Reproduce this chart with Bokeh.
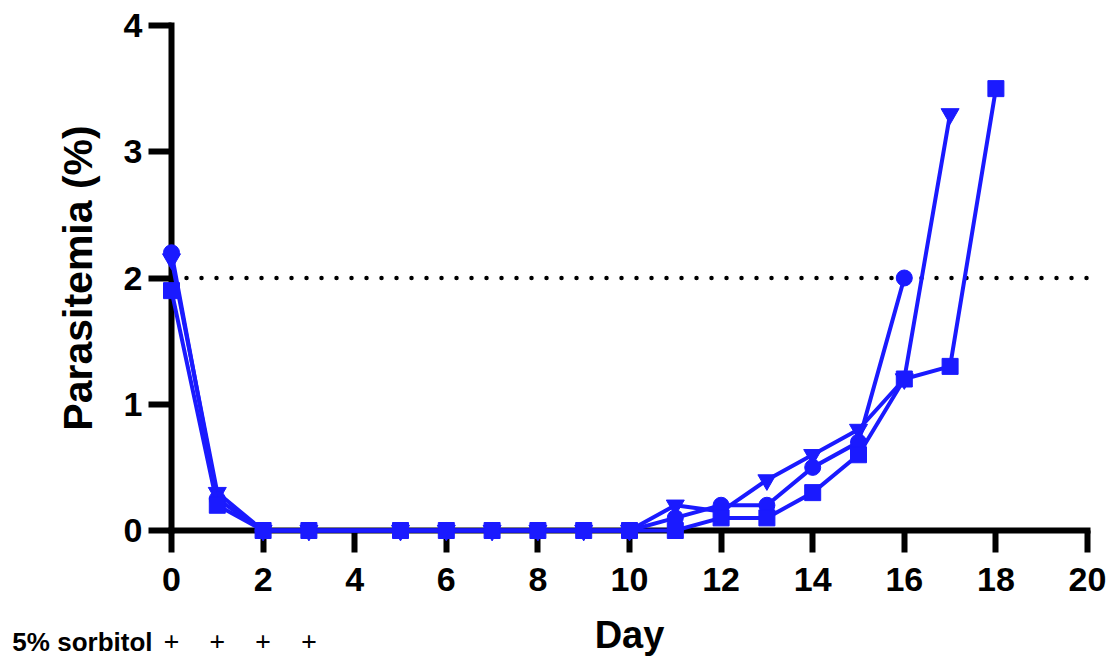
from bokeh.plotting import figure
from bokeh.models import Range1d, FixedTicker, Label, LabelSet, ColumnDataSource
from bokeh.embed import file_html
from bokeh.resources import INLINE

# ---- data ----
days_circle = [0, 1, 2, 3, 5, 6, 7, 8, 9, 10, 11, 12, 13, 14, 15, 16]
par_circle = [2.2, 0.25, 0, 0, 0, 0, 0, 0, 0, 0, 0.1, 0.2, 0.2, 0.5, 0.7, 2.0]

days_tri = [0, 1, 2, 3, 5, 6, 7, 8, 9, 10, 11, 12, 13, 14, 15, 16, 17]
par_tri = [2.15, 0.3, 0, 0, 0, 0, 0, 0, 0, 0, 0.2, 0.15, 0.4, 0.6, 0.8, 1.2, 3.3]

days_sq = [0, 1, 2, 3, 5, 6, 7, 8, 9, 10, 11, 12, 13, 14, 15, 16, 17, 18]
par_sq = [1.9, 0.2, 0, 0, 0, 0, 0, 0, 0, 0, 0, 0.1, 0.1, 0.3, 0.6, 1.2, 1.3, 3.5]

threshold = 2.0
x_ticks = [0, 2, 4, 6, 8, 10, 12, 14, 16, 18, 20]
y_ticks = [0, 1, 2, 3, 4]
x_bounds = (0, 20)
y_bounds = (0, 4)
sorbitol_days = [0, 1, 2, 3]
sorbitol_marks = ["+", "+", "+", "+"]

BLUE = "#1a1aff"
FONT = "Liberation Sans"

# ---- layout geometry (pixels) ----
W, H = 1112, 659
X0_PX, X20_PX = 171, 1087      # pixel position of day 0 / day 20
Y0_PX, Y4_PX = 530, 25         # pixel position of 0 % / 4 %
px_per_x = (X20_PX - X0_PX) / (x_bounds[1] - x_bounds[0])
px_per_y = (Y0_PX - Y4_PX) / (y_bounds[1] - y_bounds[0])
x_range = Range1d(-X0_PX / px_per_x, (W - X0_PX) / px_per_x)
y_range = Range1d(-(H - Y0_PX) / px_per_y, Y0_PX / px_per_y)

p = figure(width=W, height=H, x_range=x_range, y_range=y_range,
           output_backend="svg", toolbar_location=None,
           min_border=0)
p.outline_line_color = None
p.grid.visible = False
p.background_fill_color = "white"

# threshold dotted line
p.line(x=list(x_bounds), y=[threshold, threshold], line_color="black",
       line_width=4.5, line_dash="0 15", line_cap="round")

# axes
for ax, bnd, ticks, tout in ((p.xaxis[0], x_bounds, x_ticks, 22),
                             (p.yaxis[0], y_bounds, y_ticks, 23)):
    ax.fixed_location = 0
    ax.bounds = bnd
    ax.ticker = FixedTicker(ticks=ticks)
    ax.minor_tick_line_color = None
    ax.axis_line_width = 6
    ax.axis_line_color = "black"
    ax.axis_line_cap = "square"
    ax.major_tick_line_width = 6
    ax.major_tick_line_color = "black"
    ax.major_tick_in = 0
    ax.major_tick_out = tout
    ax.major_label_text_font = FONT
    ax.major_label_text_font_style = "bold"
    ax.major_label_text_font_size = "34px"
    ax.major_label_text_color = "black"

p.xaxis[0].major_label_standoff = 15
p.yaxis[0].major_label_standoff = 6
p.yaxis[0].axis_label = "Parasitemia (%)"
p.yaxis[0].axis_label_text_font = FONT
p.yaxis[0].axis_label_text_font_style = "bold"
p.yaxis[0].axis_label_text_font_size = "41px"
p.yaxis[0].axis_label_text_color = "black"
p.yaxis[0].axis_label_standoff = 20

# series
def series(xs, ys, marker, size):
    r1 = p.line(xs, ys, line_color=BLUE, line_width=4)
    r2 = p.scatter(xs, ys, marker=marker, size=size, fill_color=BLUE, line_color=BLUE)
    r1.level = "overlay"
    r2.level = "overlay"

series(days_tri, par_tri, "inverted_triangle", 18)
series(days_circle, par_circle, "circle", 16)
series(days_sq, par_sq, "square", 16)

# x label
p.add_layout(Label(x=(x_bounds[0] + x_bounds[1]) / 2, y=-0.83, text="Day",
                   text_align="center", text_baseline="middle",
                   text_font=FONT, text_font_style="bold", text_font_size="38px",
                   text_color="black"))

# sorbitol row
p.add_layout(Label(x=sorbitol_days[0], y=-0.88, x_offset=-19, text="5% sorbitol",
                   text_align="right", text_baseline="middle",
                   text_font=FONT, text_font_style="bold", text_font_size="26px",
                   text_color="black"))
src = ColumnDataSource(dict(x=sorbitol_days, y=[-0.88] * len(sorbitol_days), t=sorbitol_marks))
p.add_layout(LabelSet(x="x", y="y", text="t", source=src,
                      text_align="center", text_baseline="middle",
                      text_font=FONT, text_font_style="bold", text_font_size="28px",
                      text_color="black"))

open("out.html", "w").write(file_html(p, INLINE))
